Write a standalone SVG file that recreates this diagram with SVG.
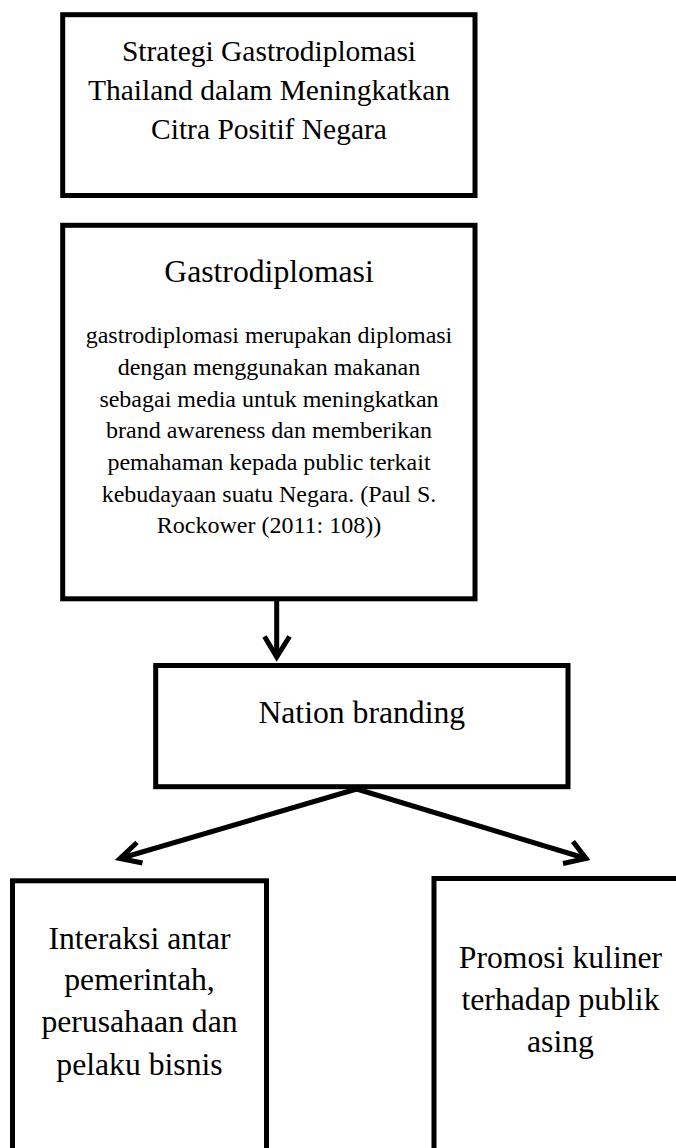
<svg xmlns="http://www.w3.org/2000/svg" width="676" height="1148" viewBox="0 0 676 1148">
<style>
.box{fill:#fff;stroke:#000;stroke-width:5}
.t{font-family:"Liberation Serif","Times New Roman",serif;fill:#000;text-anchor:middle}
.t1{font-size:29.5px}
.t2{font-size:31.7px}
.t3{font-size:24px}
.con{fill:none;stroke:#000;stroke-width:5;stroke-linejoin:miter;stroke-linecap:butt}
</style>
<rect x="0" y="0" width="676" height="1148" fill="#fff"/>
<g id="node-title">
<rect class="box" x="62.7" y="14.7" width="412.3" height="180.8"/>
<text class="t t1" x="269" y="60.7">Strategi Gastrodiplomasi</text>
<text class="t t1" x="269" y="100">Thailand dalam Meningkatkan</text>
<text class="t t1" x="269" y="138.5">Citra Positif Negara</text>
</g>
<g id="node-gastrodiplomasi">
<rect class="box" x="62.7" y="225.3" width="412.3" height="373.5"/>
<text class="t t2" x="269" y="281.7">Gastrodiplomasi</text>
<text class="t t3" x="269" y="343.3">gastrodiplomasi merupakan diplomasi</text>
<text class="t t3" x="269" y="375">dengan menggunakan makanan</text>
<text class="t t3" x="269" y="406.7">sebagai media untuk meningkatkan</text>
<text class="t t3" x="269" y="438.3">brand awareness dan memberikan</text>
<text class="t t3" x="269" y="470">pemahaman kepada public terkait</text>
<text class="t t3" x="269" y="501.7">kebudayaan suatu Negara. (Paul S.</text>
<text class="t t3" x="269" y="533.3">Rockower (2011: 108))</text>
</g>
<g id="node-nation-branding">
<rect class="box" x="155.7" y="665.5" width="412.3" height="121.2"/>
<text class="t t2" x="361.8" y="722.7">Nation branding</text>
</g>
<g id="node-interaksi">
<rect class="box" x="12.5" y="880.8" width="254" height="300"/>
<text class="t t2" x="139.5" y="949.3">Interaksi antar</text>
<text class="t t2" x="139.5" y="990">pemerintah,</text>
<text class="t t2" x="139.5" y="1032">perusahaan dan</text>
<text class="t t2" x="139.5" y="1074.8">pelaku bisnis</text>
</g>
<g id="node-promosi">
<rect class="box" x="434" y="878.5" width="300" height="300"/>
<text class="t t2" x="560.5" y="968.3">Promosi kuliner</text>
<text class="t t2" x="560.5" y="1010">terhadap publik</text>
<text class="t t2" x="560.5" y="1051.7">asing</text>
</g>
<g id="connectors">
<path class="con" d="M276.7,601 L276.7,657"/>
<path class="con" d="M264.5,636.5 L276.7,657 L289.5,636.5"/>
<path class="con" d="M356.7,789 L120,858.5"/>
<path class="con" d="M137,842.5 L120,858.5 L142.5,863"/>
<path class="con" d="M356.7,789 L586,858.5"/>
<path class="con" d="M573,841.5 L586,858.5 L563,863.5"/>
</g>
</svg>
